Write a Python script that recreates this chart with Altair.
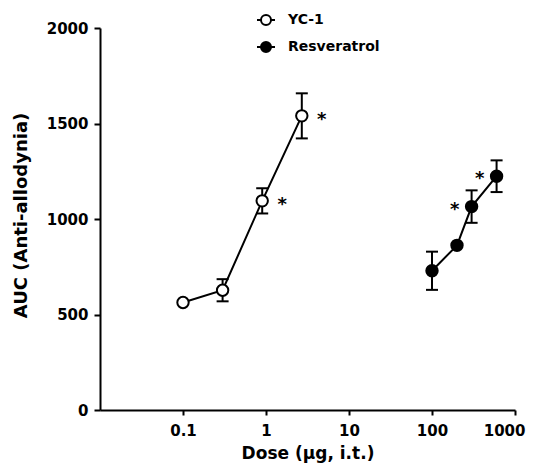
import altair as alt
import pandas as pd

# YC-1 series
dose_yc1 = [0.1, 0.3, 0.9, 2.7]
auc_yc1 = [563, 627, 1095, 1540]
sem_yc1 = [0, 58, 66, 118]
sig_yc1 = [False, False, True, True]

# Resveratrol series
dose_res = [100, 200, 300, 600]
auc_res = [729, 862, 1065, 1224]
sem_res = [100, 0, 85, 83]
sig_res = [False, False, True, True]

drugs = ["YC-1", "Resveratrol"]
x_ticks = [0.1, 1, 10, 100, 1000]
y_ticks = [0, 500, 1000, 1500, 2000]

rows = []
for d, a, s, g in zip(dose_yc1, auc_yc1, sem_yc1, sig_yc1):
    rows.append({"drug": "YC-1", "dose": d, "auc": a, "sem": s, "lo": a - s, "hi": a + s, "sig": g})
for d, a, s, g in zip(dose_res, auc_res, sem_res, sig_res):
    rows.append({"drug": "Resveratrol", "dose": d, "auc": a, "sem": s, "lo": a - s, "hi": a + s, "sig": g})
df = pd.DataFrame(rows)

FONT = "DejaVu Sans"

xscale = alt.Scale(type="log", domain=[0.01, 1000])
yscale = alt.Scale(domain=[0, 2000])

xaxis = alt.Axis(values=x_ticks, format="~g", title="Dose (µg, i.t.)", labelFlush=True,
                 labelFlushOffset=10, labelOverlap=False, tickSize=5, labelPadding=8,
                 titleY=48, titleBaseline="alphabetic", grid=False)
yaxis = alt.Axis(values=y_ticks, format="d", title="AUC (Anti-allodynia)", labelFlush=False,
                 tickSize=6, labelPadding=6, titleX=-79, titleY=187, titleBaseline="middle",
                 titleFontSize=18, grid=False)

X = alt.X("dose:Q", scale=xscale, axis=xaxis)
Y = alt.Y("auc:Q", scale=yscale, axis=yaxis)

base = alt.Chart(df)

line = base.mark_line(color="black", strokeWidth=2).encode(
    x=X, y=Y, detail="drug:N", order="dose:Q"
)

err = base.transform_filter("datum.sem > 0")
rule = err.mark_rule(color="black", strokeWidth=2).encode(
    x="dose:Q", y="lo:Q", y2="hi:Q"
)
cap_lo = err.mark_tick(orient="horizontal", color="black", size=12, thickness=2, opacity=1).encode(
    x="dose:Q", y="lo:Q"
)
cap_hi = err.mark_tick(orient="horizontal", color="black", size=12, thickness=2, opacity=1).encode(
    x="dose:Q", y="hi:Q"
)

legend_path = ("M-1,0L-0.556,0M0.556,0L1,0"
               "M-0.556,0A0.556,0.556,0,1,1,0.556,0A0.556,0.556,0,1,1,-0.556,0Z")

points = base.mark_point(shape="circle", filled=True, size=130, stroke="black",
                         strokeWidth=2, opacity=1).encode(
    x="dose:Q", y="auc:Q",
    fill=alt.Fill("drug:N", scale=alt.Scale(domain=drugs, range=["white", "black"]),
                  legend=alt.Legend(title=None, orient="none", legendX=156, legendY=-18,
                                    padding=0, rowPadding=7, labelOffset=12,
                                    labelFontSize=14, labelFont=FONT, labelFontWeight="bold",
                                    labelColor="black",
                                    symbolType=legend_path, symbolSize=324,
                                    symbolStrokeWidth=2, symbolStrokeColor="black",
                                    symbolOpacity=1))
)

star_yc1 = base.transform_filter("datum.sig && datum.drug == 'YC-1'").mark_text(
    text="*", fontSize=18, fontWeight="bold", font=FONT, dx=20, dy=4, color="black"
).encode(x="dose:Q", y="auc:Q")
star_res = base.transform_filter("datum.sig && datum.drug == 'Resveratrol'").mark_text(
    text="*", fontSize=18, fontWeight="bold", font=FONT, dx=-17, dy=3, color="black"
).encode(x="dose:Q", y="auc:Q")

chart = alt.layer(line, rule, cap_lo, cap_hi, points, star_yc1, star_res).properties(
    width=415, height=382,
    autosize=alt.AutoSizeParams(type="none"),
    padding={"left": 92, "top": 20, "right": 11, "bottom": 54},
).configure_view(stroke=None).configure_axis(
    domainColor="black", domainWidth=2, tickColor="black", tickWidth=2,
    labelColor="black", titleColor="black", labelFont=FONT, titleFont=FONT,
    labelFontSize=15, labelFontWeight="bold", titleFontSize=17, titleFontWeight="bold"
)

chart.save("out.html", embed_options={"renderer": "svg", "actions": False})
